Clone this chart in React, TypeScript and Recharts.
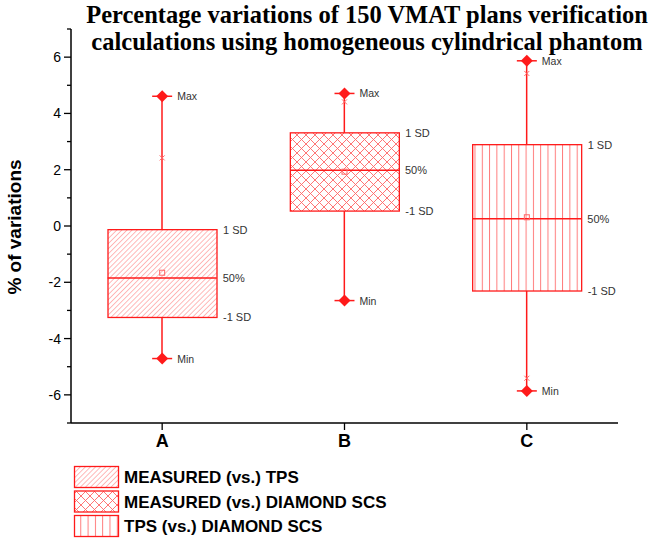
import React from 'react';
import { ComposedChart, Bar, Scatter, XAxis, YAxis } from 'recharts';

// values (% of variations)
const categories = ['A', 'B', 'C'];
const maxValues = [4.61, 4.71, 5.87];
const minValues = [-4.71, -2.65, -5.86];
const sdUpper = [-0.13, 3.31, 2.89];
const sdLower = [-3.25, 0.53, -2.31];
const medians = [-1.85, 1.98, 0.26];
const means = [-1.66, 1.93, 0.31];
const upperMarks = [2.42, 4.41, 5.42];
const lowerMarks = [null, null, -5.41];
const yTicks = [-7, -6, -5, -4, -3, -2, -1, 0, 1, 2, 3, 4, 5, 6, 7];
const yTickLabels = [-6, -4, -2, 0, 2, 4, 6];
const seriesNames = [
  'MEASURED (vs.) TPS',
  'MEASURED (vs.) DIAMOND SCS',
  'TPS (vs.) DIAMOND SCS',
];
const titleLines = [
  'Percentage variations of 150 VMAT plans verification',
  'calculations using homogeneous cylindrical phantom',
];

const RED = '#ff1a1a';
const HATCH = '#ff6666';
const BOX_W = 109;
const patternIds = ['hatchA', 'crossB', 'vertC'];

const rows = categories.map((name, i) => ({
  name,
  whisker: [minValues[i], maxValues[i]],
  box: [sdLower[i], sdUpper[i]],
  max: maxValues[i],
  min: minValues[i],
  median: medians[i],
  mean: means[i],
  upper: upperMarks[i],
  lower: lowerMarks[i],
  pattern: patternIds[i],
}));

const Patterns = ({ prefix }: { prefix: string }) => (
  <defs>
    <pattern id={prefix + 'hatchA'} patternUnits="userSpaceOnUse" width="3.6" height="3.6" patternTransform="rotate(45)">
      <line x1="0" y1="0" x2="0" y2="3.6" stroke={HATCH} strokeWidth="0.9" />
    </pattern>
    <pattern id={prefix + 'crossB'} patternUnits="userSpaceOnUse" width="9" height="9">
      <line x1="0" y1="0" x2="9" y2="9" stroke={HATCH} strokeWidth="0.9" />
      <line x1="9" y1="0" x2="0" y2="9" stroke={HATCH} strokeWidth="0.9" />
    </pattern>
    <pattern id={prefix + 'vertC'} patternUnits="userSpaceOnUse" width="7.3" height="10">
      <line x1="0.5" y1="0" x2="0.5" y2="10" stroke={HATCH} strokeWidth="0.9" />
    </pattern>
  </defs>
);

const smallText = { fontFamily: 'Arial, "Liberation Sans", sans-serif', fontSize: 11, fill: '#333' };

const WhiskerShape = (props: any) => {
  const { x, y, width, height } = props;
  const cx = x + width / 2;
  const top = Math.min(y, y + height);
  const bottom = Math.max(y, y + height);
  return <line x1={cx} x2={cx} y1={top} y2={bottom} stroke={RED} strokeWidth={1.5} />;
};

const BoxShape = (props: any) => {
  const { x, y, width, height, payload } = props;
  const top = Math.min(y, y + height);
  const h = Math.abs(height);
  return (
    <g>
      <rect x={x} y={top} width={width} height={h} fill="#fff" />
      <rect x={x} y={top} width={width} height={h} fill={`url(#c${payload.pattern})`} stroke={RED} strokeWidth={1.3} />
      <text x={x + width + 6} y={top + 4} {...smallText}>1 SD</text>
      <text x={x + width + 6} y={top + h + 4} {...smallText}>-1 SD</text>
    </g>
  );
};

const MedianShape = (props: any) => {
  const { cx, cy } = props;
  return (
    <g>
      <line x1={cx - BOX_W / 2} x2={cx + BOX_W / 2} y1={cy} y2={cy} stroke={RED} strokeWidth={1.5} />
      <text x={cx + BOX_W / 2 + 6} y={cy + 4} {...smallText}>50%</text>
    </g>
  );
};

const extremeShape = (label: string) => (props: any) => {
  const { cx, cy } = props;
  return (
    <g>
      <line x1={cx - 10} x2={cx + 10} y1={cy} y2={cy} stroke={RED} strokeWidth={1.5} />
      <polygon points={`${cx},${cy - 6} ${cx + 6},${cy} ${cx},${cy + 6} ${cx - 6},${cy}`} fill={RED} />
      <text x={cx + 15} y={cy + 4} {...smallText} fontSize={10.5}>{label}</text>
    </g>
  );
};

const crossShape = (key: string) => (props: any) => {
  const { cx, cy, payload } = props;
  if (payload == null || payload[key] == null || !Number.isFinite(cy)) return <g />;
  return (
    <g stroke={HATCH} strokeWidth={1}>
      <line x1={cx - 2.5} x2={cx + 2.5} y1={cy - 2.5} y2={cy + 2.5} />
      <line x1={cx - 2.5} x2={cx + 2.5} y1={cy + 2.5} y2={cy - 2.5} />
    </g>
  );
};

const MeanShape = (props: any) => {
  const { cx, cy } = props;
  return <rect x={cx - 2.5} y={cy - 2.5} width={5} height={5} fill="none" stroke={HATCH} strokeWidth={1} />;
};

const YTick = (props: any) => {
  const { x, y, payload } = props;
  const major = yTickLabels.includes(payload.value);
  return (
    <g>
      <line x1={x - (major ? 7 : 4)} x2={x} y1={y} y2={y} stroke="#000" strokeWidth={1.3} />
      {major && (
        <text x={x - 10} y={y + 5} textAnchor="end" fontFamily='Arial, "Liberation Sans", sans-serif' fontSize={14} fill="#000">
          {payload.value}
        </text>
      )}
    </g>
  );
};

export default function App() {
  return (
    <div style={{ position: 'absolute', left: 0, top: 0, width: 660, height: 540, background: '#fff' }}>
      <svg style={{ position: 'absolute', left: 0, top: 0 }} width={660} height={58}>
        {titleLines.map((t, i) => (
          <text
            key={t}
            x={367}
            y={22.5 + i * 27}
            textAnchor="middle"
            fontFamily='"Liberation Serif", "Times New Roman", serif'
            fontWeight="bold"
            fontSize={24.5}
            fill="#000"
          >
            {t}
          </text>
        ))}
      </svg>
      <div
        style={{
          position: 'absolute',
          left: 15,
          top: 227,
          transform: 'translate(-50%, -50%) rotate(-90deg)',
          whiteSpace: 'nowrap',
          fontFamily: 'Arial, "Liberation Sans", sans-serif',
          fontWeight: 'bold',
          fontSize: 19,
          color: '#000',
        }}
      >
        % of variations
      </div>
      <div style={{ position: 'absolute', left: 0, top: 0 }}>
        <ComposedChart width={660} height={460} data={rows} margin={{ top: 29, right: 42, left: 0, bottom: 7 }}>
          <Patterns prefix="c" />
          <XAxis xAxisId="w" dataKey="name" hide />
          <XAxis
            xAxisId="b"
            dataKey="name"
            height={30}
            axisLine={{ stroke: '#000', strokeWidth: 1.5 }}
            tickLine={{ stroke: '#000', strokeWidth: 1.3 }}
            tickSize={7}
            tick={{ fill: '#000', fontSize: 18, fontWeight: 'bold', fontFamily: 'Arial, "Liberation Sans", sans-serif' }}
            tickMargin={4}
          />
          <YAxis
            width={71}
            type="number"
            domain={[-7, 7]}
            ticks={yTicks}
            interval={0}
            tickSize={0}
            tickMargin={0}
            tickLine={false}
            axisLine={{ stroke: '#000', strokeWidth: 1.5 }}
            tick={<YTick />}
          />
          <Bar xAxisId="w" dataKey="whisker" barSize={4} shape={<WhiskerShape />} isAnimationActive={false} />
          <Bar xAxisId="b" dataKey="box" barSize={BOX_W} shape={<BoxShape />} isAnimationActive={false} />
          <Scatter xAxisId="b" dataKey="median" shape={<MedianShape />} isAnimationActive={false} />
          <Scatter xAxisId="b" dataKey="mean" shape={<MeanShape />} isAnimationActive={false} />
          <Scatter xAxisId="b" dataKey="upper" shape={crossShape('upper')} isAnimationActive={false} />
          <Scatter xAxisId="b" dataKey="lower" shape={crossShape('lower')} isAnimationActive={false} />
          <Scatter xAxisId="b" dataKey="max" shape={extremeShape('Max')} isAnimationActive={false} />
          <Scatter xAxisId="b" dataKey="min" shape={extremeShape('Min')} isAnimationActive={false} />
        </ComposedChart>
      </div>
      <svg style={{ position: 'absolute', left: 0, top: 460 }} width={660} height={80}>
        <Patterns prefix="l" />
        {seriesNames.map((s, i) => (
          <g key={s}>
            <rect x={74.5} y={6.5 + i * 24.5} width={44} height={21} fill={`url(#l${patternIds[i]})`} stroke={RED} strokeWidth={1.3} />
            <text
              x={124}
              y={23 + i * 24.5}
              fontFamily='Arial, "Liberation Sans", sans-serif'
              fontWeight="bold"
              fontSize={17}
              fill="#000"
            >
              {s}
            </text>
          </g>
        ))}
      </svg>
    </div>
  );
}
